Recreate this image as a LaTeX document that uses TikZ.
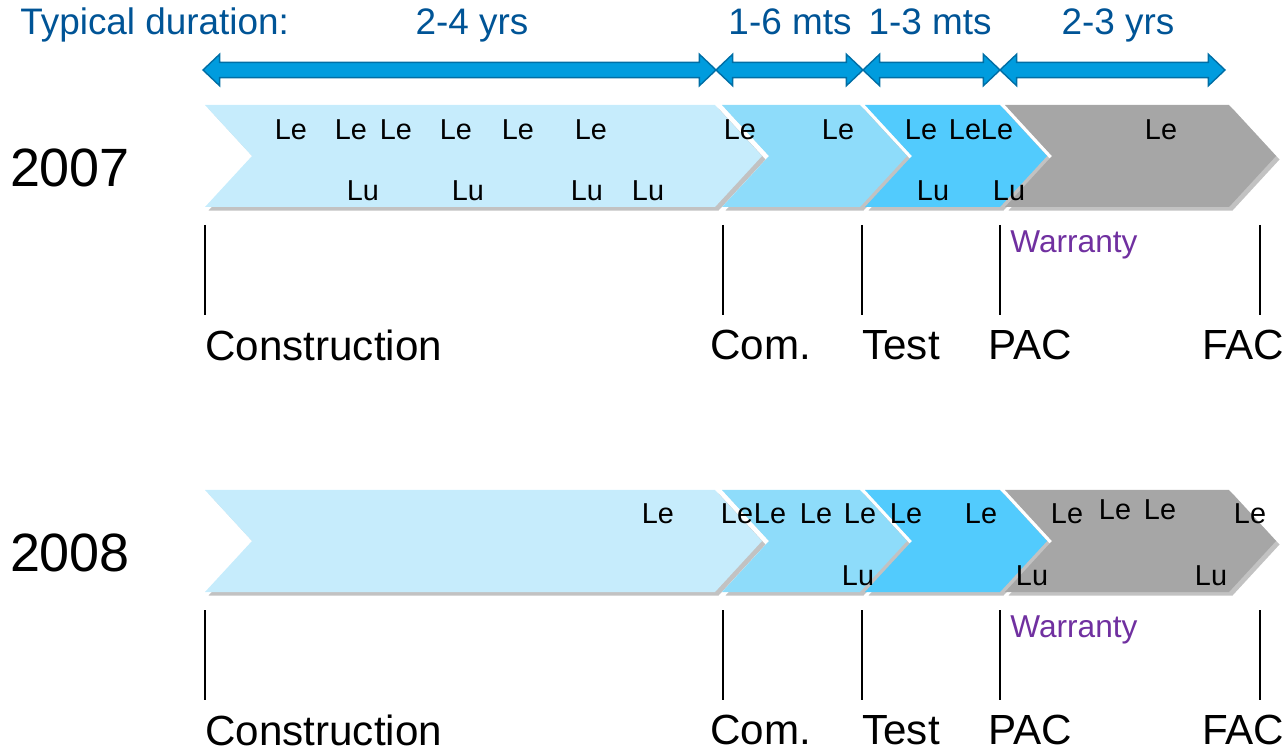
\documentclass[tikz,border=0pt]{standalone}
\usepackage{fontspec}
\setmainfont{Liberation Sans}
\usetikzlibrary{calc,shadows}

\definecolor{durblue}{RGB}{0,156,222}
\definecolor{duredge}{RGB}{0,110,165}
\definecolor{durtext}{RGB}{0,84,150}
\definecolor{constr}{RGB}{198,236,252}
\definecolor{commiss}{RGB}{142,220,250}
\definecolor{testing}{RGB}{82,203,253}
\definecolor{warranty}{RGB}{166,166,166}
\definecolor{warrtext}{RGB}{112,48,160}

\tikzset{
	chev/.style={drop shadow={shadow xshift=2pt,shadow yshift=-2pt,opacity=0.4,fill=black!60}},
	durarrow/.style={fill=durblue,draw=duredge,line width=0.8pt},
	durlabel/.style={font=\fontsize{21}{24}\selectfont,text=durtext,inner sep=0pt,anchor=base},
	le/.style={font=\fontsize{16.4}{18}\selectfont,inner sep=0pt},
	stagelabel/.style={font=\fontsize{24}{28}\selectfont,inner sep=0pt,anchor=west},
	warrlabel/.style={font=\fontsize{18}{20}\selectfont,text=warrtext,inner sep=0pt,anchor=west},
	year/.style={font=\fontsize{30.7}{34}\selectfont,inner sep=0pt},
	tick/.style={line width=0.8pt}
}

% double headed duration arrow between two coordinates
\newcommand\durarrow[2]{
	\draw[durarrow] let \p1=(#1), \p2=(#2) in
		(\x1,\y1) -- (\x1+9.5pt,\y1+9pt) -- (\x1+9.5pt,\y1+4.3pt) -- (\x2-9.5pt,\y1+4.3pt)
		-- (\x2-9.5pt,\y1+9pt) -- (\x2,\y1) -- (\x2-9.5pt,\y1-9pt) -- (\x2-9.5pt,\y1-4.3pt)
		-- (\x1+9.5pt,\y1-4.3pt) -- (\x1+9.5pt,\y1-9pt) -- cycle;
}
% chevron: left edge, right edge (top), colour
\newcommand\chevron[3]{
	\fill[#3,chev] (#1,0) -- (#2,0) -- (#2+47,51) -- (#2,102) -- (#1,102) -- (#1+47,51) -- cycle;
}
% one row of stages: prefix, top y, year
\newcommand\stagerow[3]{
	\begin{scope}[shift={(0,#2)}]
	\chevron{205}{715}{constr}
	\chevron{722}{860}{commiss}
	\chevron{865}{1000}{testing}
	\chevron{1005}{1229}{warranty}
	\path (70,63) node(#1Year) [year] {#3}
			(205,240) node(#1Constr) [stagelabel] {Construction}
			(710,240) node(#1Com) [stagelabel] {Com.}
			(862,240) node(#1Test) [stagelabel] {Test}
			(988,240) node(#1PAC) [stagelabel] {PAC}
			(1202,240) node(#1FAC) [stagelabel] {FAC}
			(1010,140) node(#1Warranty) [warrlabel] {Warranty};
	\draw[tick] (205,120) -- (205,210);
	\draw[tick] (723,120) -- (723,210);
	\draw[tick] (862,120) -- (862,210);
	\draw[tick] (1000,120) -- (1000,210);
	\draw[tick] (1260,120) -- (1260,210);
	\end{scope}
}

\begin{document}
\begin{tikzpicture}[x=0.02cm,y=-0.02cm]
\useasboundingbox (0,0) rectangle (1286,753);
% durations
\coordinate (d0) at (203,70);
\coordinate (d1) at (716,70);
\coordinate (d2) at (863,70);
\coordinate (d3) at (1000,70);
\coordinate (d4) at (1225,70);
\durarrow{d0}{d1}
\durarrow{d1}{d2}
\durarrow{d2}{d3}
\durarrow{d3}{d4}
\path (20,35) node(Typical) [durlabel,anchor=base west] {Typical duration:}
		(472,35) node(DurConstr) [durlabel] {2-4 yrs}
		(790,35) node(DurCom) [durlabel] {1-6 mts}
		(930,35) node(DurTest) [durlabel] {1-3 mts}
		(1118,35) node(DurWarr) [durlabel] {2-3 yrs};
% 2007
\stagerow{A}{105}{2007}
\path (291,130) node(ALe1) [le] {Le}
		(351,130) node(ALe2) [le] {Le}
		(396,130) node(ALe3) [le] {Le}
		(456,130) node(ALe4) [le] {Le}
		(518,130) node(ALe5) [le] {Le}
		(591,130) node(ALe6) [le] {Le}
		(740,130) node(ALe7) [le] {Le}
		(838,130) node(ALe8) [le] {Le}
		(921,130) node(ALe9) [le] {Le}
		(965,130) node(ALe10) [le] {Le}
		(997,130) node(ALe11) [le] {Le}
		(1161,130) node(ALe12) [le] {Le}
		(363,191) node(ALu1) [le] {Lu}
		(468,191) node(ALu2) [le] {Lu}
		(587,191) node(ALu3) [le] {Lu}
		(648,191) node(ALu4) [le] {Lu}
		(933,191) node(ALu5) [le] {Lu}
		(1009,191) node(ALu6) [le] {Lu};
% 2008
\stagerow{B}{490}{2008}
\path (658,514) node(BLe1) [le] {Le}
		(737,514) node(BLe2) [le] {Le}
		(770,514) node(BLe3) [le] {Le}
		(816,514) node(BLe4) [le] {Le}
		(860,514) node(BLe5) [le] {Le}
		(906,514) node(BLe6) [le] {Le}
		(981,514) node(BLe7) [le] {Le}
		(1067,514) node(BLe8) [le] {Le}
		(1115,510) node(BLe9) [le] {Le}
		(1160,510) node(BLe10) [le] {Le}
		(1250,514) node(BLe11) [le] {Le}
		(858,576) node(BLu1) [le] {Lu}
		(1032,576) node(BLu2) [le] {Lu}
		(1211,576) node(BLu3) [le] {Lu};
\end{tikzpicture}
\end{document}
